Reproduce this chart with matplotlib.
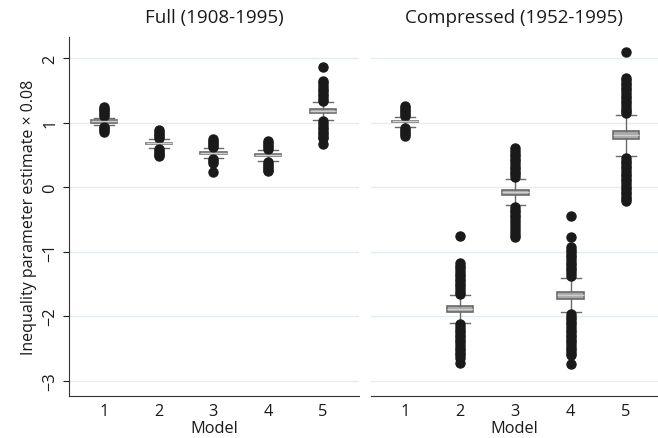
import matplotlib.pyplot as plt
import matplotlib as mpl

mpl.rcParams['font.family'] = ['Open Sans', 'DejaVu Sans']

models = [1, 2, 3, 4, 5]
panel_titles = ['Full (1908-1995)', 'Compressed (1952-1995)']

# Full (1908-1995)
full_med = [1.02, 0.68, 0.53, 0.50, 1.18]
full_q1 = [1.00, 0.67, 0.52, 0.49, 1.15]
full_q3 = [1.04, 0.69, 0.54, 0.51, 1.21]
full_lo = [0.96, 0.61, 0.45, 0.41, 1.04]
full_hi = [1.08, 0.74, 0.60, 0.57, 1.32]
full_out = [
    [1.25, 1.22, 1.19, 1.16, 1.13, 1.10, 0.94, 0.91, 0.88, 0.85],
    [0.88, 0.85, 0.82, 0.79, 0.76, 0.59, 0.56, 0.53, 0.50, 0.48],
    [0.75, 0.72, 0.69, 0.66, 0.63, 0.43, 0.40, 0.37, 0.24],
    [0.71, 0.68, 0.65, 0.62, 0.59, 0.39, 0.36, 0.33, 0.30, 0.27, 0.25],
    [1.87, 1.65, 1.61, 1.57, 1.53, 1.49, 1.45, 1.41, 1.37, 1.34,
     1.02, 0.98, 0.94, 0.90, 0.86, 0.82, 0.78, 0.76, 0.67],
]

# Compressed (1952-1995)
comp_med = [1.02, -1.89, -0.08, -1.68, 0.81]
comp_q1 = [1.01, -1.93, -0.12, -1.74, 0.74]
comp_q3 = [1.03, -1.85, -0.04, -1.62, 0.87]
comp_lo = [0.935, -2.10, -0.28, -1.94, 0.48]
comp_hi = [1.085, -1.67, 0.12, -1.41, 1.12]
comp_out = [
    [1.26, 1.23, 1.20, 1.17, 1.14, 1.11, 0.91, 0.88, 0.85, 0.82, 0.79],
    [-0.76, -1.18, -1.22, -1.26, -1.30, -1.34, -1.38, -1.42, -1.46, -1.50,
     -1.54, -1.58, -1.62, -1.65, -2.13, -2.17, -2.21, -2.25, -2.29, -2.33,
     -2.37, -2.41, -2.45, -2.49, -2.53, -2.57, -2.60, -2.65, -2.73],
    [0.60, 0.56, 0.52, 0.48, 0.44, 0.40, 0.36, 0.32, 0.28, 0.24, 0.20, 0.16,
     -0.31, -0.35, -0.39, -0.43, -0.47, -0.51, -0.55, -0.60, -0.65, -0.70,
     -0.75, -0.78],
    [-0.45, -0.78, -0.93, -0.97, -1.01, -1.05, -1.09, -1.13, -1.17, -1.21,
     -1.25, -1.29, -1.33, -1.38, -1.97, -2.01, -2.05, -2.09, -2.13, -2.17,
     -2.21, -2.25, -2.29, -2.33, -2.37, -2.41, -2.45, -2.49, -2.53, -2.57,
     -2.60, -2.74],
    [2.10, 1.70, 1.66, 1.62, 1.58, 1.54, 1.50, 1.46, 1.42, 1.38, 1.34, 1.30,
     1.26, 1.22, 1.18, 1.15, 0.45, 0.41, 0.37, 0.33, 0.29, 0.25, 0.21, 0.17,
     0.13, 0.09, 0.05, 0.01, -0.03, -0.07, -0.11, -0.15, -0.19, -0.22],
]


def make_stats(med, q1, q3, lo, hi, out):
    return [dict(med=med[i], q1=q1[i], q3=q3[i], whislo=lo[i], whishi=hi[i],
                 fliers=out[i], label=str(models[i])) for i in range(len(models))]


fig = plt.figure(figsize=(6.58, 4.39), dpi=100)
ax1 = fig.add_axes([0.1049, 0.0957, 0.4407, 0.8178])
ax2 = fig.add_axes([0.5638, 0.0957, 0.4362, 0.8178])

box_kw = dict(
    positions=models, widths=0.48, capwidths=0.36, patch_artist=True,
    boxprops=dict(facecolor='#a8a8a8', edgecolor='#6a6a6a', linewidth=1.2),
    medianprops=dict(color='#cfcfcf', linewidth=1.0),
    whiskerprops=dict(color='#6a6a6a', linewidth=1.0),
    capprops=dict(color='#6a6a6a', linewidth=1.0),
    flierprops=dict(marker='o', markerfacecolor='#1a1a1a',
                    markeredgecolor='#1a1a1a', markersize=6.5),
)

panels = [
    (ax1, make_stats(full_med, full_q1, full_q3, full_lo, full_hi, full_out)),
    (ax2, make_stats(comp_med, comp_q1, comp_q3, comp_lo, comp_hi, comp_out)),
]

for (ax, stats), title in zip(panels, panel_titles):
    ax.bxp(stats, **box_kw)
    ax.set_ylim(-3.24, 2.33)
    ax.set_yticks([-3, -2, -1, 0, 1, 2])
    ax.yaxis.grid(True, color='#e4eef0', linewidth=1.0)
    ax.set_axisbelow(True)
    ax.set_title(title, fontsize=13.5, pad=11, color='#1a1a1a')
    ax.set_xlabel('Model', fontsize=11.8, labelpad=1, color='#1a1a1a')
    ax.set_xticks(models)
    ax.set_xticklabels([str(m) for m in models])
    ax.tick_params(axis='x', length=0, pad=5, labelsize=11.8, colors='#1a1a1a')
    for s in ['top', 'right']:
        ax.spines[s].set_visible(False)
    ax.spines['bottom'].set_color('#333333')

ax1.set_xlim(0.36, 5.66)
ax2.set_xlim(0.385, 5.58)

ax1.tick_params(axis='y', length=4, labelsize=11.8, colors='#1a1a1a',
                labelrotation=90)
for lab in ax1.get_yticklabels():
    lab.set_va('center')
ax1.spines['left'].set_color('#333333')
ax1.set_ylabel('Inequality parameter estimate × 0.08', fontsize=11.5,
               color='#1a1a1a', labelpad=4)

ax2.spines['left'].set_visible(False)
ax2.tick_params(axis='y', length=0, labelleft=False)

fig.savefig('out.png', dpi=100)
